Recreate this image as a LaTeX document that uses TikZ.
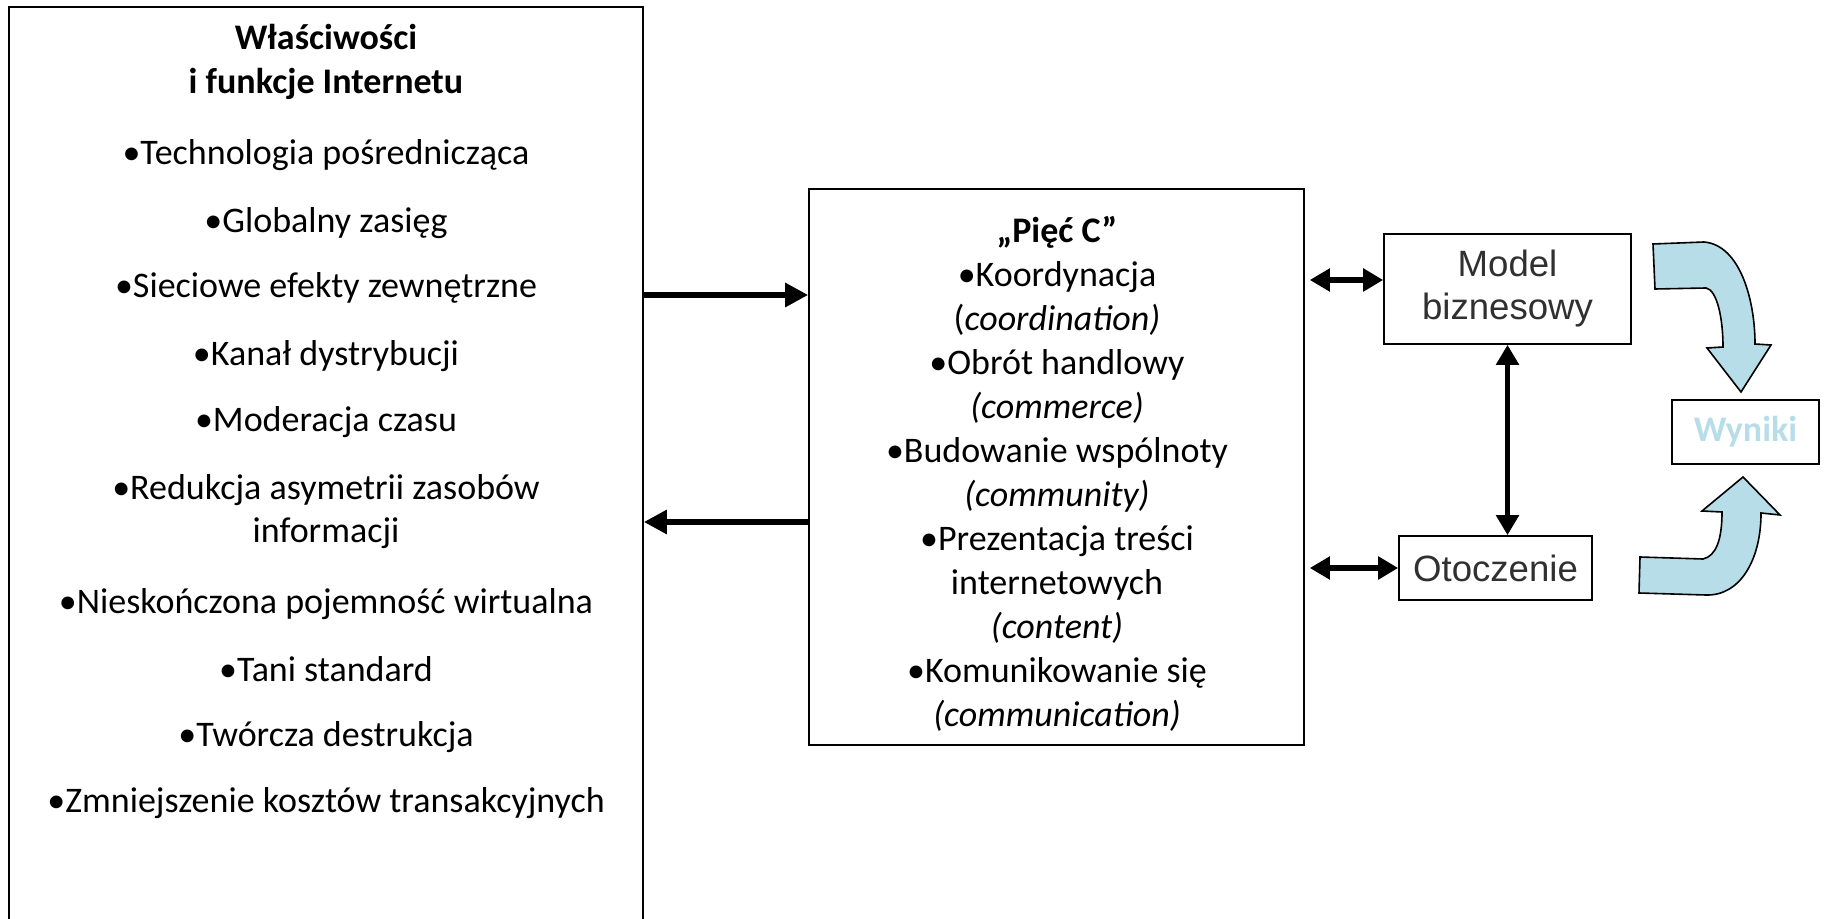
\documentclass[tikz,border=0pt]{standalone}
\usepackage{fontspec}
\setmainfont{Carlito}
\newfontfamily\arialfont{Liberation Sans}
\usepackage{tikz}
\usetikzlibrary{calc,arrows.meta}
\definecolor{aqua}{HTML}{B7DEE8}
\definecolor{darktext}{HTML}{303030}

\begin{document}
\begin{tikzpicture}[x=0.5pt, y=-0.5pt,
    every node/.style={font=\fontsize{18}{21.5}\selectfont},
    box/.style={draw, line width=0.8pt, inner sep=0pt},
    arr/.style={line width=3pt, -{Triangle[length=11.5pt,width=11.5pt]}},
    dbl/.style={line width=2.8pt, {Triangle[length=10pt,width=11pt]}-{Triangle[length=10pt,width=11pt]}},
    curvearrow/.style={draw=black, line width=0.8pt, fill=aqua}]
    \useasboundingbox (0,0) rectangle (1826,919);% Fixes the page size

    \coordinate (FwdY)  at (0,295);
    \coordinate (BackY) at (0,522);
    \coordinate (TopY)  at (0,280);

    % Boxes
    \node[box, minimum width=317pt, minimum height=459pt] (Props) at (326,466) {};
    \node[box, minimum width=247.5pt, minimum height=278pt] (FiveC) at (1056.5,467) {};
    \node[box, minimum width=123.5pt, minimum height=55pt, align=center, text=darktext,
          font=\arialfont\fontsize{18.3}{21.5}\selectfont] (Model) at (1507.5,289) {Model\\biznesowy};
    \node[box, minimum width=96.5pt, minimum height=32pt, text=darktext,
          font=\arialfont\fontsize{18.3}{22}\selectfont] (Env) at (1495.5,568) {Otoczenie};
    \node[box, minimum width=73.5pt, minimum height=32pt, text=aqua,
          font=\bfseries\fontsize{18}{20}\selectfont] (Results) at (1745.5,432) {Wyniki};

    % Texts of the left box
    \node[align=center, font=\bfseries\fontsize{18}{22}\selectfont] (PropsTitle) at (326,62)
      {Właściwości\\i funkcje Internetu};
    \foreach \txt/\yy [count=\i] in {%
        Technologia pośrednicząca/155,
        Globalny zasięg/223,
        Sieciowe efekty zewnętrzne/288,
        Kanał dystrybucji/356,
        Moderacja czasu/422,
        Redukcja asymetrii zasobów\\informacji/512,
        Nieskończona pojemność wirtualna/604,
        Tani standard/669,
        Twórcza destrukcja/737,
        Zmniejszenie kosztów transakcyjnych/803}{%
      \node[align=center] (item\i) at (326,\yy) {•\txt};
    }

    % Texts of the middle box
    \node[align=center, inner sep=0pt, font=\fontsize{18}{22}\selectfont] (FiveCText) at (1057,474)
      {\textbf{„Pięć C”}\\
       •Koordynacja\\
       (\textit{coordination)}\\
       •Obrót handlowy\\
       \textit{(commerce)}\\
       •Budowanie wspólnoty\\
       \textit{(community)}\\
       •Prezentacja treści\\
       internetowych\\
       \textit{(content)}\\
       •Komunikowanie się\\
       \textit{(communication)}};

    % Connectors
    \draw[arr] (Props.east |- FwdY) -- (FiveC.west |- FwdY);
    \draw[arr] (FiveC.west |- BackY) -- (Props.east |- BackY);
    \draw[dbl, shorten <=2.5pt] (FiveC.east |- TopY) -- (Model.west |- TopY);
    \draw[dbl, shorten <=2.5pt] (FiveC.east |- Env.west) -- (Env.west);
    \draw[dbl] (Model.south) -- (Model.south |- Env.north);

    % Bent arrows to the results
    \path[curvearrow] (1653,244) -- (1704,242) .. controls (1740,245) and (1755,300) .. (1755,344)
      -- (1771,345) -- (1741,392) -- (1707,348) -- (1723,347)
      .. controls (1723,318) and (1717,290) .. (1706,288) -- (1655,289) -- cycle;
    \path[curvearrow] (1640,557) -- (1703,559) .. controls (1716,556) and (1722,540) .. (1722,512)
      -- (1702,511) -- (1743,477) -- (1780,515) -- (1761,513)
      .. controls (1761,560) and (1740,596) .. (1706,595) -- (1639,593) -- cycle;
\end{tikzpicture}
\end{document}
